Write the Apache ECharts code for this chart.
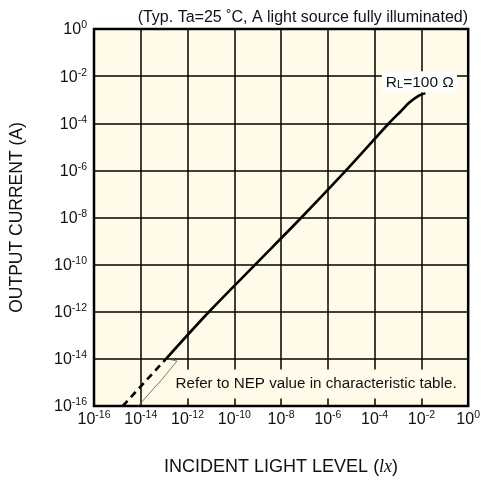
<!DOCTYPE html>
<html>
<head>
<meta charset="utf-8">
<script src="https://cdn.jsdelivr.net/npm/echarts@6/dist/echarts.min.js"></script>
<style>html,body{margin:0;padding:0;background:#fff}#c{width:483px;height:485px}</style>
</head>
<body>
<div id="c"></div>
<script>
// Incident light level (lx) and output current (A)
const nepLight   = [1.7e-15, 1.2e-13];
const nepCurrent = [1e-16, 1e-14];
const mainLight   = [1.2e-13, 8.3e-12, 7.8e-10, 7.4e-8, 6.0e-6, 4.1e-4, 1.29e-3, 2.88e-3, 7.8e-3, 1.48e-2];
const mainCurrent = [1e-14, 1e-12, 1e-10, 1e-8, 1e-6, 1e-4, 3.16e-4, 7.2e-4, 1.48e-3, 1.9e-3];
const bracketLight   = [1.6e-13, 3.55e-13, 6.0e-14, 4.6e-14, 5.5e-14, 7.8e-15];
const bracketCurrent = [9.7e-15, 8.1e-15, 9.5e-16, 7.4e-16, 7.9e-16, 1e-16];
const xTickExps = [-16, -14, -12, -10, -8, -6, -4, -2, 0];
const yTickExps = [-16, -14, -12, -10, -8, -6, -4, -2, 0];
const titleText = '(Typ. Ta=25 \u02DAC, A light source fully illuminated)';
const noteText = 'Refer to NEP value in characteristic table.';

const toPts = (xs, ys) => xs.map((x, i) => [Math.log10(x), Math.log10(ys[i])]);
const FONT = '"Liberation Sans", Arial, Helvetica, sans-serif';
const rich = {
  b: { fontSize: 16, fontFamily: FONT, color: '#111', lineHeight: 18, verticalAlign: 'bottom' },
  s: { fontSize: 10.5, fontFamily: FONT, color: '#111', lineHeight: 10, verticalAlign: 'top' }
};
const fmt = v => {
  const e = Math.round(v);
  return '{b|10}{s|' + e + '}';
};

const chart = echarts.init(document.getElementById('c'));
const option = {
  animation: false,
  backgroundColor: '#ffffff',
  title: {
    text: titleText, right: 10, top: 5,
    textStyle: { fontSize: 16, fontWeight: 'normal', fontFamily: FONT, color: '#111' }
  },
  grid: {
    left: 92, right: 12, top: 29, bottom: 79,
    show: true, backgroundColor: '#fffbe8', borderColor: '#000', borderWidth: 2.5
  },
  xAxis: {
    type: 'value', min: -16, max: 0, interval: 2,
    axisLine: { show: false }, axisTick: { show: false },
    splitLine: { show: true, lineStyle: { color: '#000', width: 1.5 } },
    axisLabel: { margin: 4, formatter: fmt, rich: rich },
    name: 'INCIDENT LIGHT LEVEL ({i|lx})', nameLocation: 'middle', nameGap: 52,
    nameTextStyle: {
      fontSize: 18, fontFamily: FONT, color: '#111',
      rich: { i: { fontSize: 18, fontFamily: '"Liberation Serif", "Times New Roman", serif', fontStyle: 'italic', color: '#111' } }
    }
  },
  yAxis: {
    type: 'value', min: -16, max: 0, interval: 2,
    axisLine: { show: false }, axisTick: { show: false },
    splitLine: { show: true, lineStyle: { color: '#000', width: 1.5 } },
    axisLabel: { margin: 7, formatter: fmt, rich: rich },
    name: 'OUTPUT CURRENT (A)', nameLocation: 'middle', nameGap: 68, nameRotate: 90,
    nameTextStyle: { fontSize: 17.5, fontFamily: FONT, color: '#111' }
  },
  series: [
    {
      type: 'line', data: toPts(bracketLight, bracketCurrent), symbol: 'none', z: 3,
      lineStyle: { color: '#555', width: 0.8 }
    },
    {
      type: 'line', data: toPts(nepLight, nepCurrent), symbol: 'none', z: 4,
      lineStyle: { color: '#000', width: 2.6, type: [7, 5] }
    },
    {
      type: 'line', data: toPts(mainLight, mainCurrent), symbol: 'none', smooth: 0.3, z: 4,
      lineStyle: { color: '#000', width: 2.6 }
    }
  ]
};
chart.setOption(option);

// text annotations placed in data coordinates
const rlPos = chart.convertToPixel({ gridIndex: 0 }, [-0.48, -2.24]);
const notePos = chart.convertToPixel({ gridIndex: 0 }, [-12.6, -15.07]);
chart.setOption({
  graphic: [
    {
      type: 'text', x: rlPos[0], y: rlPos[1], z: 10,
      style: {
        text: 'R{s|L}=100 \u03A9', align: 'right', verticalAlign: 'middle',
        fontSize: 15.5, fontFamily: FONT, fill: '#111',
        backgroundColor: '#ffffff', padding: [3, 3, 2, 4],
        rich: { s: { fontSize: 11, fontFamily: FONT, fill: '#111', verticalAlign: 'bottom' } }
      }
    },
    {
      type: 'text', x: notePos[0], y: notePos[1], z: 10,
      style: {
        text: noteText, align: 'left', verticalAlign: 'middle',
        fontSize: 15.2, fontFamily: FONT, fill: '#111',
        backgroundColor: '#fffbe8', padding: [7, 2, 7, 2]
      }
    }
  ]
});
</script>
</body>
</html>
